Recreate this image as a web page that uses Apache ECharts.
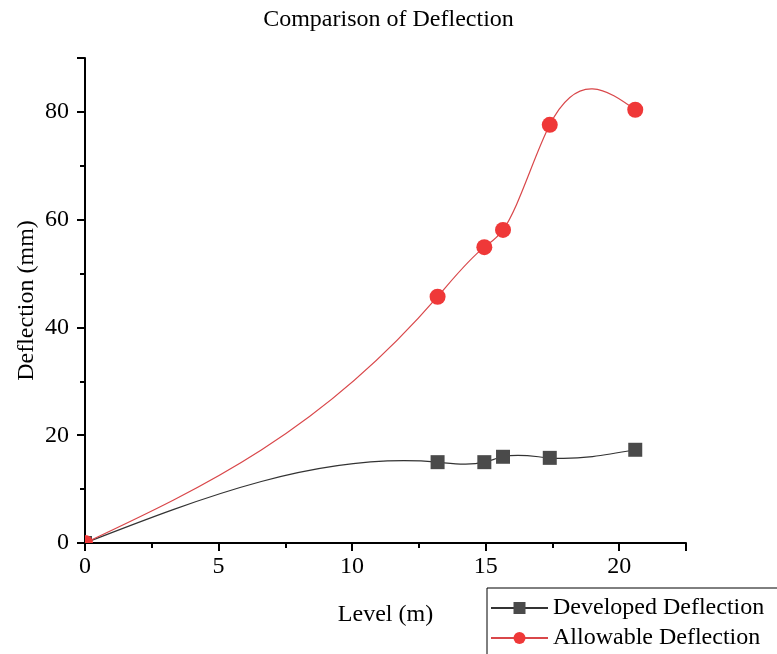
<!DOCTYPE html>
<html>
<head>
<meta charset="utf-8">
<script src="https://cdn.jsdelivr.net/npm/echarts@6/dist/echarts.min.js"></script>
<style>html,body{margin:0;padding:0;background:#fff;}#c{width:777px;height:654px;}</style>
</head>
<body>
<div id="c"></div>
<script>
var levels = [0, 13.2, 14.95, 15.65, 17.4, 20.6];
var developed = [0, 15.0, 15.0, 16.0, 15.8, 17.3];
var allowable = [0, 45.7, 54.9, 58.1, 77.6, 80.4];
var seriesNames = ['Developed Deflection', 'Allowable Deflection'];

var FONT = '"Liberation Serif", "Times New Roman", serif';
var BLACK_MARK = '#4a4a4a', BLACK_LINE = '#333333';
var RED_MARK = '#ef3838', RED_LINE = '#d9474a';

function pairs(xs, ys) { return xs.map(function (x, i) { return [x, ys[i]]; }); }

// natural cubic spline second derivatives (rendering of the curve through the data points)
function splineM(xs, ys) {
  var n = xs.length, h = [], i;
  for (i = 0; i < n - 1; i++) h.push(xs[i + 1] - xs[i]);
  var a = [], b = [], c = [], d = [];
  for (i = 1; i < n - 1; i++) {
    a.push(h[i - 1]); b.push(2 * (h[i - 1] + h[i])); c.push(h[i]);
    d.push(6 * ((ys[i + 1] - ys[i]) / h[i] - (ys[i] - ys[i - 1]) / h[i - 1]));
  }
  var m = d.length;
  for (i = 1; i < m; i++) {
    var w = a[i] / b[i - 1];
    b[i] -= w * c[i - 1]; d[i] -= w * d[i - 1];
  }
  var inner = new Array(m);
  for (i = m - 1; i >= 0; i--) inner[i] = (d[i] - (i < m - 1 ? c[i] * inner[i + 1] : 0)) / b[i];
  return [0].concat(inner, [0]);
}

function curveSeries(ys, color, z) {
  var M = splineM(levels, ys);
  return {
    type: 'custom', silent: true, clip: true, z: z,
    data: pairs(levels, ys),
    encode: { x: 0, y: 1 },
    renderItem: function (params, api) {
      if (params.dataIndex !== 0) return null;
      var children = [];
      for (var i = 0; i < levels.length - 1; i++) {
        var x0 = levels[i], x1 = levels[i + 1], y0 = ys[i], y1 = ys[i + 1], h = x1 - x0;
        var s = (y1 - y0) / h;
        var d0 = s - h * (2 * M[i] + M[i + 1]) / 6;
        var d1 = s + h * (M[i] + 2 * M[i + 1]) / 6;
        var p0 = api.coord([x0, y0]), p3 = api.coord([x1, y1]);
        var p1 = api.coord([x0 + h / 3, y0 + h * d0 / 3]);
        var p2 = api.coord([x1 - h / 3, y1 - h * d1 / 3]);
        children.push({
          type: 'bezierCurve',
          shape: { x1: p0[0], y1: p0[1], x2: p3[0], y2: p3[1], cpx1: p1[0], cpy1: p1[1], cpx2: p2[0], cpy2: p2[1] },
          style: { stroke: color, lineWidth: 1.2, fill: null }
        });
      }
      return { type: 'group', children: children };
    }
  };
}

function markerSeries(ys, shape, size, color, z) {
  return {
    type: 'custom', silent: true, clip: true, z: z,
    data: pairs(levels, ys),
    encode: { x: 0, y: 1 },
    renderItem: function (params, api) {
      var p = api.coord([api.value(0), api.value(1)]);
      if (shape === 'rect') {
        return { type: 'rect', shape: { x: p[0] - size / 2, y: p[1] - size / 2, width: size, height: size }, style: { fill: color } };
      }
      return { type: 'circle', shape: { cx: p[0], cy: p[1], r: size / 2 }, style: { fill: color } };
    }
  };
}

var chart = echarts.init(document.getElementById('c'));
chart.setOption({
  animation: false,
  backgroundColor: '#fff',
  title: {
    text: 'Comparison of Deflection', left: 'center', top: 3,
    textStyle: { fontFamily: FONT, fontSize: 24, fontWeight: 'normal', color: '#000' }
  },
  grid: { left: 85, right: 91, top: 58, bottom: 111 },
  xAxis: {
    type: 'value', min: 0, max: 22.5, interval: 5,
    name: 'Level (m)', nameLocation: 'middle', nameGap: 60,
    nameTextStyle: { fontFamily: FONT, fontSize: 24, color: '#000' },
    axisLine: { lineStyle: { color: '#000', width: 2 } },
    axisTick: { length: 8, lineStyle: { color: '#000', width: 2 } },
    minorTick: { show: true, splitNumber: 2, length: 5, lineStyle: { color: '#000', width: 2 } },
    axisLabel: { fontFamily: FONT, fontSize: 24, color: '#000', margin: 12, showMaxLabel: false },
    splitLine: { show: false }
  },
  yAxis: {
    type: 'value', min: 0, max: 90, interval: 20,
    name: 'Deflection (mm)', nameLocation: 'middle', nameGap: 46, nameMoveOverlap: false,
    nameTextStyle: { fontFamily: FONT, fontSize: 24, color: '#000' },
    axisLine: { show: true, lineStyle: { color: '#000', width: 2 } },
    axisTick: { show: true, length: 8, lineStyle: { color: '#000', width: 2 } },
    minorTick: { show: true, splitNumber: 2, length: 5, lineStyle: { color: '#000', width: 2 } },
    axisLabel: { fontFamily: FONT, fontSize: 24, color: '#000', margin: 16, showMaxLabel: false },
    splitLine: { show: false }
  },
  legend: {
    orient: 'vertical', left: 487, top: 588, width: 320, height: 120, itemGap: 6,
    itemWidth: 57, itemHeight: 15,
    borderColor: '#000', borderWidth: 1, padding: [8, 24, 6, 3],
    textStyle: { fontFamily: FONT, fontSize: 24, color: '#000' },
    data: seriesNames
  },
  series: [
    {
      name: seriesNames[0], type: 'line', data: [],
      symbol: 'rect', symbolSize: 14,
      itemStyle: { color: BLACK_MARK }, lineStyle: { color: BLACK_LINE, width: 1 }
    },
    {
      name: seriesNames[1], type: 'line', data: [],
      symbol: 'circle', symbolSize: 16,
      itemStyle: { color: RED_MARK }, lineStyle: { color: RED_LINE, width: 1 }
    },
    curveSeries(developed, BLACK_LINE, 2),
    curveSeries(allowable, RED_LINE, 3),
    markerSeries(developed, 'rect', 14, BLACK_MARK, 4),
    markerSeries(allowable, 'circle', 16, RED_MARK, 5)
  ]
});
</script>
</body>
</html>
